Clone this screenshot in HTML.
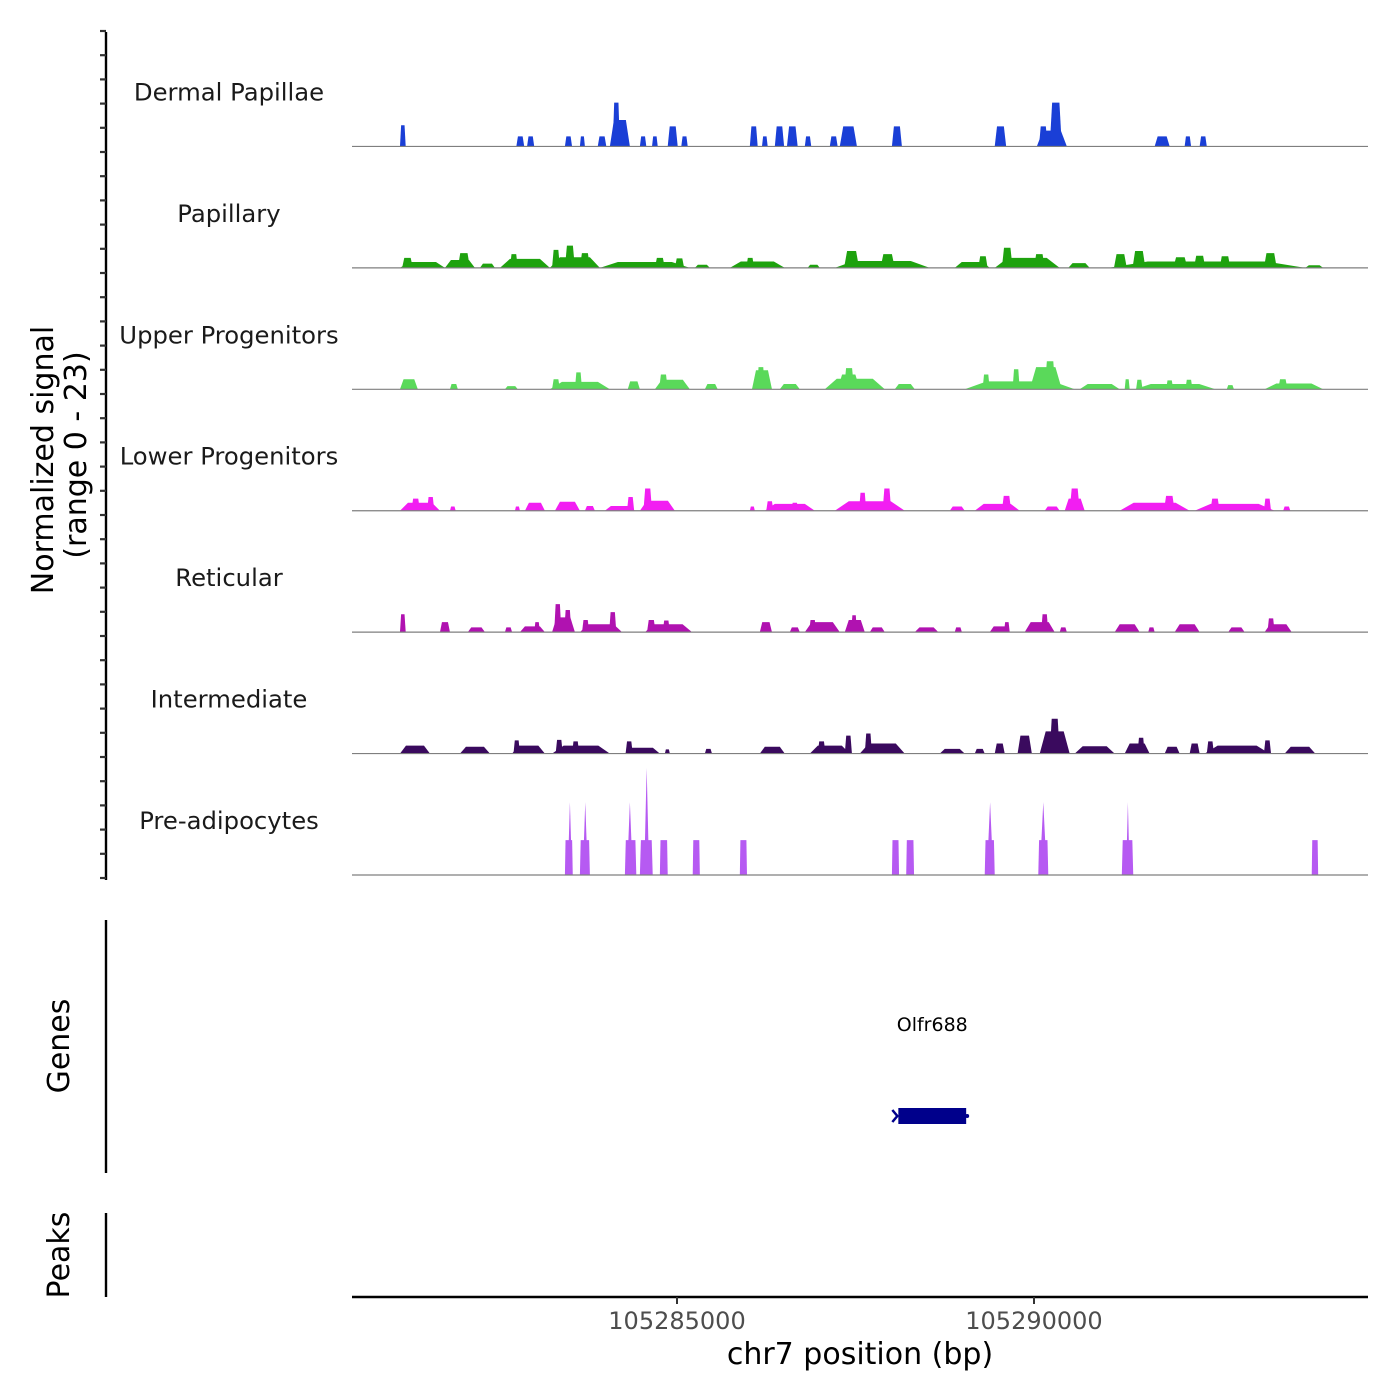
<!DOCTYPE html>
<html><head><meta charset="utf-8">
<style>
html,body{margin:0;padding:0;background:#fff;}
svg{display:block;font-family:"DejaVu Sans","Liberation Sans",sans-serif;}
</style></head>
<body>
<svg id="chart" width="1400" height="1400" viewBox="0 0 1400 1400">
<g id="axes"></g>
<g id="tracks"></g>
<g id="genes"></g>
</svg>
<script>
// ---- data (positions in kb relative to chr7:105280000, values in normalized signal units) ----
const trackNames = ["Dermal Papillae","Papillary","Upper Progenitors","Lower Progenitors","Reticular","Intermediate","Pre-adipocytes"];
const trackColors = ["#1a3fd6","#1ea20e","#5ad95a","#f21ef2","#b012b0","#3a0a5e","#b65af2"];

const dpStart=[1.12,2.75,2.90,3.43,3.64,3.89,4.06,4.10,4.48,4.65,4.87,5.06,6.02,6.19,6.37,6.54,6.79,7.14,7.28,8.01,9.45,10.04,10.07,10.22,11.69,12.11,12.32];
const dpEnd  =[1.20,2.86,3.00,3.53,3.71,4.01,4.34,4.20,4.57,4.73,5.01,5.15,6.13,6.27,6.50,6.69,6.88,7.25,7.52,8.15,9.61,10.46,10.19,10.39,11.90,12.20,12.42];
const dpVal  =[4.0,1.9,1.9,1.9,1.9,1.9,5.0,8.3,1.9,1.9,3.8,1.9,3.8,1.9,3.8,3.8,1.9,1.9,3.8,3.8,3.8,3.0,3.8,8.3,1.9,1.9,1.9];

const paStart=[1.12,1.15,1.75,1.93,2.24,2.52,2.66,3.22,3.25,3.43,3.64,3.92,4.69,4.97,5.25,5.74,5.97,6.83,7.21,7.34,7.85,8.89,9.22,9.45,9.55,10.00,10.48,11.04,11.12,11.38,11.95,12.24,12.60,13.22,13.80];
const paEnd  =[1.75,1.30,2.17,2.10,2.45,3.22,2.77,3.92,3.36,3.57,3.78,5.18,4.83,5.10,5.46,6.51,6.08,7.00,8.54,7.55,8.05,9.38,9.35,10.36,9.70,10.15,10.78,13.80,11.30,11.56,12.15,12.40,12.75,13.40,14.05];
const paVal  =[1.1,1.9,1.5,2.8,0.8,1.7,2.6,2.0,3.4,4.2,2.8,1.1,1.9,1.8,0.6,1.2,1.9,0.6,1.3,3.2,2.6,1.1,2.2,1.9,3.8,2.6,0.9,1.2,2.6,3.2,2.0,2.3,2.2,2.8,0.5];

const upStart=[1.12,1.82,2.59,3.22,3.25,3.57,4.31,4.69,4.75,5.39,6.05,6.12,6.44,7.07,7.25,7.34,8.05,9.03,9.28,9.70,9.94,10.15,10.64,11.27,11.41,11.43,11.85,12.12,12.70,13.23,13.42];
const upEnd  =[1.37,1.93,2.77,4.06,3.36,3.67,4.48,5.18,4.87,5.57,6.33,6.23,6.72,7.91,7.56,7.48,8.33,10.57,9.38,9.80,10.39,10.30,11.20,11.34,12.54,11.52,11.95,12.22,12.80,14.05,13.55];
const upVal  =[1.9,1.0,0.6,1.4,1.9,3.2,1.5,1.8,2.8,1.0,3.6,4.2,1.0,2.0,2.8,4.0,1.0,1.5,2.8,3.8,4.2,5.3,1.0,1.9,1.0,1.8,1.7,1.8,0.8,1.1,1.9];

const lpStart=[1.12,1.28,1.50,1.82,2.73,2.87,3.29,3.71,3.99,4.30,4.48,4.53,6.02,6.23,6.25,6.60,7.21,7.55,7.88,8.82,9.17,9.55,10.15,10.43,10.50,11.20,11.82,12.25,12.47,13.22,13.49];
const lpEnd  =[1.68,1.40,1.60,1.90,2.80,3.15,3.64,3.85,4.41,4.40,4.97,4.65,6.09,6.93,6.35,6.70,8.19,7.65,8.00,9.03,9.80,9.68,10.36,10.71,10.64,12.18,11.97,13.37,12.60,13.32,13.59];
const lpVal  =[1.5,2.3,2.6,0.8,0.8,1.5,1.7,0.9,0.9,2.6,1.9,4.2,0.8,1.3,1.8,1.5,1.8,3.4,4.2,0.8,1.3,2.8,0.8,2.3,4.2,1.5,2.8,1.3,2.3,2.3,0.8];

const reStart=[1.12,1.68,2.07,2.59,2.80,3.00,3.25,3.28,3.42,3.64,3.67,4.05,4.55,4.58,4.80,6.16,6.58,6.79,6.85,7.35,7.44,7.70,8.33,8.89,9.38,9.58,9.87,10.10,10.36,11.13,11.60,11.97,12.72,13.23,13.27];
const reEnd  =[1.20,1.82,2.31,2.69,3.15,3.08,3.57,3.38,3.52,4.23,3.77,4.15,5.21,4.70,4.90,6.33,6.72,7.28,6.95,7.63,7.52,7.91,8.66,8.99,9.66,9.66,10.29,10.20,10.46,11.48,11.69,12.32,12.95,13.61,13.37];
const reVal  =[3.4,1.9,0.9,0.9,1.1,1.9,2.8,5.3,4.2,1.5,2.3,3.8,1.5,2.3,2.2,1.9,0.9,1.9,2.3,2.3,3.2,0.9,0.9,0.9,1.1,1.9,1.9,3.4,0.9,1.5,0.9,1.5,0.9,1.5,2.6];

const inStart=[1.12,1.96,2.69,2.71,3.25,3.30,3.53,4.27,4.28,4.83,5.39,6.16,6.86,6.97,7.35,7.56,7.63,8.68,9.17,9.45,9.77,10.08,10.22,10.57,11.27,11.45,11.83,12.18,12.39,12.42,13.22,13.51];
const inEnd  =[1.54,2.38,3.15,2.80,4.06,3.40,3.63,4.76,4.38,4.90,5.49,6.51,7.42,7.08,7.45,8.19,7.73,9.03,9.31,9.59,9.97,10.50,10.36,11.13,11.62,11.55,12.04,12.32,13.30,12.52,13.32,13.94];
const inVal  =[1.5,1.3,1.5,2.5,1.5,2.6,2.3,1.1,2.3,0.8,0.9,1.3,1.5,2.3,3.4,1.9,3.8,0.9,0.9,1.9,3.4,4.2,6.6,1.4,1.9,3.0,1.3,1.9,1.5,2.3,2.5,1.3];

const paStartB=[3.43,3.47,3.64,3.68,4.27,4.30,4.48,4.54,4.76,5.22,5.88,8.01,8.21,9.31,9.34,10.06,10.08,11.23,11.29,13.89];
const paEndB  =[3.54,3.53,3.78,3.75,4.43,4.38,4.66,4.61,4.87,5.32,5.98,8.11,8.32,9.45,9.43,10.20,10.18,11.39,11.34,13.98];
const paValB  =[6.6,13.8,6.6,13.8,6.6,13.8,6.6,20.3,6.6,6.6,6.6,6.6,6.6,6.6,13.8,6.6,13.8,6.6,13.8,6.6];

const trackStarts=[dpStart,paStart,upStart,lpStart,reStart,inStart,paStartB];
const trackEnds=[dpEnd,paEnd,upEnd,lpEnd,reEnd,inEnd,paEndB];
const trackVals=[dpVal,paVal,upVal,lpVal,reVal,inVal,paValB];

const xTickValues=[105285000,105290000];
const xTickLabels=["105285000","105290000"];
const geneName="Olfr688";
const geneStartBp=105288100;
const geneEndBp=105289050;

// ---- scales ----
const regionStart=105280448, regionEnd=105294678;
const plotL=352, plotR=1368;
function xBp(bp){return plotL+(bp-regionStart)/(regionEnd-regionStart)*(plotR-plotL);}
function xKb(kb){return xBp(105280000+kb*1000);}
const yMax=23, trackTop=25, trackH=121.43;
function yVal(v,i){const base=trackTop+trackH*(i+1);return base-v/yMax*trackH;}

const NS="http://www.w3.org/2000/svg";
function mk(tag,attrs,parent){const e=document.createElementNS(NS,tag);for(const k in attrs)e.setAttribute(k,attrs[k]);parent.appendChild(e);return e;}

const axes=document.getElementById('axes');
const tracks=document.getElementById('tracks');
const genes=document.getElementById('genes');

// left signal axis
let a=mk('line',{x1:106,y1:32,x2:106,y2:880,stroke:'#000','stroke-width':2.4},axes);


for(let k=0;k<=35;k++){
  const y=878-k*24.2;
  const t=mk('line',{x1:100,y1:y,x2:106,y2:y,stroke:'#333','stroke-width':2.2},axes);
  
  
}
let yt=mk('text',{x:0,y:0,'font-size':30,'text-anchor':'middle',fill:'#000',transform:'translate(53,460) rotate(-90)'},axes);
yt.textContent='Normalized signal';


let yt2=mk('text',{x:0,y:0,'font-size':30,'text-anchor':'middle',fill:'#000',transform:'translate(86,455) rotate(-90)'},axes);
yt2.textContent='(range 0 - 23)';



// genes & peaks axes
let ga=mk('line',{x1:106,y1:920,x2:106,y2:1173,stroke:'#000','stroke-width':2.4},axes);


let gt=mk('text',{x:0,y:0,'font-size':30,'text-anchor':'middle',fill:'#000',transform:'translate(69,1046) rotate(-90)'},axes);
gt.textContent='Genes';


let pa=mk('line',{x1:106,y1:1213,x2:106,y2:1297,stroke:'#000','stroke-width':2.4},axes);


let pt=mk('text',{x:0,y:0,'font-size':30,'text-anchor':'middle',fill:'#000',transform:'translate(69,1255) rotate(-90)'},axes);
pt.textContent='Peaks';



// x axis
let xa=mk('line',{x1:352,y1:1297,x2:1368,y2:1297,stroke:'#000','stroke-width':2.4},axes);


xTickValues.forEach((v,i)=>{
  const x=xBp(v);
  const t=mk('line',{x1:x,y1:1297,x2:x,y2:1304,stroke:'#333','stroke-width':2},axes);
  
  
  const l=mk('text',{x:x,y:1329,'font-size':24,'text-anchor':'middle',fill:'#4d4d4d'},axes);
  l.textContent=xTickLabels[i];
  
  
});
let xt=mk('text',{x:860,y:1364,'font-size':30,'text-anchor':'middle',fill:'#000'},axes);
xt.textContent='chr7 position (bp)';



// tracks
trackNames.forEach((name,i)=>{
  const g=mk('g',{},tracks);
  
  
  const base=yVal(0,i);
  const lab=mk('text',{x:229,y:base-46,'font-size':24.3,'text-anchor':'middle',fill:'#1a1a1a'},g);
  lab.textContent=name;
  
  
  const s=trackStarts[i],e=trackEnds[i],v=trackVals[i];
  for(let j=0;j<s.length;j++){
    const x0=xKb(s[j]),x1=xKb(e[j]);
    const r=(x1-x0)*(i===6?(v[j]>10?0.5:0.08):0.2);
    const yt=yVal(v[j],i);
    const p=mk('polygon',{points:`${x0},${base} ${x0+r},${yt} ${x1-r},${yt} ${x1},${base}`,fill:trackColors[i]},g);
    
    
  }
  const bl=mk('line',{x1:plotL,y1:base,x2:plotR,y2:base,stroke:'#7f7f7f','stroke-width':1.2},g);
  
  
});

// gene
const gx0=xBp(geneStartBp),gx1=xBp(geneEndBp);
let gb=mk('rect',{x:gx0,y:1108,width:gx1-gx0,height:16,fill:'#00008b'},genes);


let ar=mk('path',{d:`M${gx0-6},1110 L${gx0-1},1116 L${gx0-6},1122`,stroke:'#00008b','stroke-width':2.5,fill:'none'},genes);


let ar2=mk('circle',{cx:gx1+1,cy:1116,r:2,fill:'#00008b'},genes);


let gl=mk('text',{x:(gx0+gx1)/2,y:1031,'font-size':19,'text-anchor':'middle',fill:'#000'},genes);
gl.textContent=geneName;


</script>
</body></html>
